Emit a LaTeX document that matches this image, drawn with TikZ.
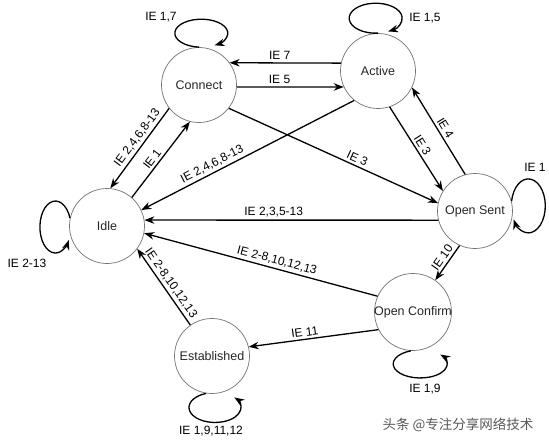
\documentclass[tikz,border=0pt]{standalone}
\usepackage{fontspec}
\setmainfont{Liberation Sans}
\newfontfamily\cjk{Noto Sans CJK SC}
\usetikzlibrary{arrows.meta}
\begin{document}
\begin{tikzpicture}[x=1pt,y=1pt,
  state/.style={circle, draw=black!55, line width=0.7pt, minimum size=75pt, inner sep=0pt},
  sname/.style={font=\fontsize{12.5}{14}\selectfont, text=black!85, inner sep=0pt},
  tr/.style={line width=1.3pt, -{Stealth[length=10pt,width=7.5pt]}},
  lbl/.style={sloped, above, font=\fontsize{12}{14}\selectfont, inner sep=2.5pt},
  plain/.style={font=\fontsize{12}{14}\selectfont, inner sep=0pt},
]
\fill[white] (0,0) rectangle (549,-444);
\useasboundingbox (0,0) rectangle (549,-444);

% states
\node[state] (connect) at (199,-85) {};
\node[state] (active) at (378,-71) {};
\node[state] (idle) at (107,-226) {};
\node[state] (opensent) at (475,-211) {};
\node[state, minimum size=77pt] (opencfm) at (413,-312) {};
\node[state] (estab) at (212,-356) {};
\node[sname] (connectT) at (connect.center) {Connect};
\node[sname] (activeT) at (active.center) {Active};
\node[sname] (idleT) at (idle.center) {Idle};
\node[sname] (opensentT) at (opensent.center) {Open Sent};
\node[sname] (opencfmT) at (opencfm.center) {Open Confirm};
\node[sname] (estabT) at (estab.center) {Established};

% transitions
\draw[tr] (connect.218) -- node[lbl,pos=0.43]{IE 2,4,6,8-13} (idle.85);
\draw[tr] (idle.49) -- node[lbl,pos=0.45]{IE 1} (connect.256);
\draw[tr] (active.231) -- node[lbl,pos=0.65]{IE 2,4,6,8-13} (idle.25);
\draw[tr] (active.168) -- node[lbl,pos=0.55]{IE 7} (connect.36);
\draw[tr] (connect.357) -- node[lbl,pos=0.4]{IE 5} (active.205);
\draw[tr] (connect.322) -- node[lbl,pos=0.6]{IE 3} (opensent.168);
\draw[tr] (active.288) -- node[lbl,pos=0.5]{IE 3} (opensent.148);
\draw[tr] (opensent.105) -- node[lbl,pos=0.49]{IE 4} (active.334);
\draw[tr] (opensent.194) -- node[lbl,pos=0.56]{IE 2,3,5-13} (idle.9);
\draw[tr] (opensent.246) -- node[lbl,pos=0.47]{IE 10} (opencfm.55);
\draw[tr] (opencfm.156) -- node[lbl,pos=0.44]{IE 2-8,10,12,13} (idle.349);
\draw[tr] (opencfm.207) -- node[lbl,pos=0.56]{IE 11} (estab.14);
\draw[tr] (estab.125) -- node[lbl,pos=0.49]{IE 2-8,10,12,13} (idle.323);

% self loops
\draw[tr] (connect.north) arc[start angle=265, end angle=-60, x radius=26.5, y radius=14];
\draw[tr] (active.north) arc[start angle=275, end angle=-62, x radius=26.5, y radius=15];
\draw[tr] (opensent.15) arc[start angle=170, end angle=-150, x radius=17, y radius=27];
\draw[tr] (opencfm.267) arc[start angle=110, end angle=402, x radius=27, y radius=14];
\draw[tr] (estab.261) arc[start angle=110, end angle=402, x radius=26, y radius=15];
\draw[tr] (idle.168) arc[start angle=20, end angle=330, x radius=15.5, y radius=26];

% loop labels
\node[plain] (l17) at (161,-17) {IE 1,7};
\node[plain] (l15) at (425,-18) {IE 1,5};
\node[plain] (l1) at (535,-167) {IE 1};
\node[plain] (l19) at (425,-389) {IE 1,9};
\node[plain] (l191112) at (211,-431) {IE 1,9,11,12};
\node[plain] (l213) at (27,-263) {IE 2-13};

% watermark
\node[font=\cjk\fontsize{13.5}{15}\selectfont, text=black!65, inner sep=0pt] (wm) at (458,-425) {头条 @专注分享网络技术};
\end{tikzpicture}
\end{document}
